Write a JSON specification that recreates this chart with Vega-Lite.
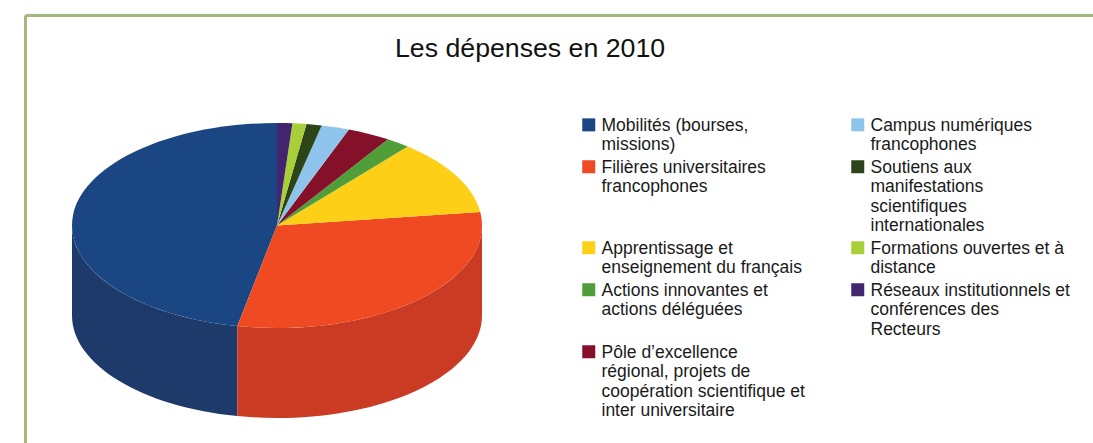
{
"$schema":"https://vega.github.io/schema/vega-lite/v6.json",
"autosize":{"type":"none"},
"padding":{"left":25,"top":15,"right":0,"bottom":0},
"width":1068,"height":428,
"background":"#ffffff",
"config":{"view":{"stroke":null},"font":"Liberation Sans"},
"title":{"text":"Les dépenses en 2010","anchor":"start","frame":"group","dx":370,"dy":52,"fontSize":26.7,"fontWeight":"normal","font":"Liberation Sans","color":"#111111"},
"data":{"values":[
{"poste":"Mobilités (bourses,\nmissions)","part":46.9},
{"poste":"Filières universitaires\nfrancophones","part":30.2},
{"poste":"Apprentissage et\nenseignement du français","part":11.9},
{"poste":"Actions innovantes et\nactions déléguées","part":1.9},
{"poste":"Pôle d’excellence\nrégional, projets de\ncoopération scientifique et\ninter universitaire","part":3.4},
{"poste":"Campus numériques\nfrancophones","part":2.2},
{"poste":"Soutiens aux\nmanifestations\nscientifiques\ninternationales","part":1.2},
{"poste":"Formations ouvertes et à\ndistance","part":1.1},
{"poste":"Réseaux institutionnels et\nconférences des\nRecteurs","part":1.2}
]},
"transform":[
{"stack":"part","groupby":[],"offset":"normalize","as":["v0","v1"]},
{"calculate":"2*PI*datum.v0","as":"a0"},
{"calculate":"2*PI*datum.v1","as":"a1"}
],
"encoding":{
"x":{"datum":0,"type":"quantitative","scale":{"domain":[-252,816],"nice":false,"zero":false},"axis":{"orient":"top","title":null,"labels":false,"ticks":false,"grid":false,"domain":true,"domainColor":"#a2b87c","domainWidth":3}},
"y":{"datum":0,"type":"quantitative","scale":{"domain":[-217.5,210.5],"nice":false,"zero":false},"axis":{"orient":"left","title":null,"labels":false,"ticks":false,"grid":false,"domain":true,"domainColor":"#a2b87c","domainWidth":3}}
},
"layer":[
{
"transform":[
{"calculate":"clamp(datum.a0,PI/2,3*PI/2)","as":"b0"},
{"calculate":"clamp(datum.a1,PI/2,3*PI/2)","as":"b1"},
{"filter":"datum.b1>datum.b0"},
{"calculate":"round(-20500*sin(datum.b0))/100","as":"x0"},
{"calculate":"round(-10250*cos(datum.b0))/100","as":"y0"},
{"calculate":"round(-20500*sin(datum.b1))/100","as":"x1"},
{"calculate":"round(-10250*cos(datum.b1))/100","as":"y1"},
{"calculate":"'M'+datum.x0+','+datum.y0+'A205,102.5 0 0 0 '+datum.x1+','+datum.y1+'L'+datum.x1+','+(datum.y1+90)+'A205,102.5 0 0 1 '+datum.x0+','+(datum.y0+90)+'Z'","as":"trace"}
],
"mark":{"type":"point","filled":true,"opacity":1,"strokeWidth":0,"size":4},
"encoding":{
"shape":{"field":"trace","type":"nominal","scale":null,"legend":null},
"fill":{"field":"poste","type":"nominal","legend":null,"scale":{"domain":["Mobilités (bourses,\nmissions)","Filières universitaires\nfrancophones"],"range":["#1d3a6b","#cb3a22"]}}
}
},
{
"transform":[
{"calculate":"round(-20500*sin(datum.a0))/100","as":"x0"},
{"calculate":"round(-10250*cos(datum.a0))/100","as":"y0"},
{"calculate":"round(-20500*sin(datum.a1))/100","as":"x1"},
{"calculate":"round(-10250*cos(datum.a1))/100","as":"y1"},
{"calculate":"'M0,0L'+datum.x0+','+datum.y0+'A205,102.5 0 '+(datum.a1-datum.a0>PI?1:0)+' 0 '+datum.x1+','+datum.y1+'Z'","as":"trace"}
],
"mark":{"type":"point","filled":true,"opacity":1,"strokeWidth":0,"size":4},
"encoding":{
"shape":{"field":"trace","type":"nominal","scale":null,"legend":null},
"fill":{"field":"poste","type":"nominal","sort":null,
"scale":{"domain":["Mobilités (bourses,\nmissions)","Filières universitaires\nfrancophones","Apprentissage et\nenseignement du français","Actions innovantes et\nactions déléguées","Pôle d’excellence\nrégional, projets de\ncoopération scientifique et\ninter universitaire","Campus numériques\nfrancophones","Soutiens aux\nmanifestations\nscientifiques\ninternationales","Formations ouvertes et à\ndistance","Réseaux institutionnels et\nconférences des\nRecteurs"],
"range":["#1a4683","#ef4a21","#fdd017","#4f9e3a","#85102a","#8ec4ec","#2c4418","#a8cf38","#43246f"]},
"legend":{"title":null,"orient":"none","legendX":555,"legendY":101,"columns":2,"symbolType":"square","symbolSize":169,"symbolStrokeWidth":0,"labelFont":"Liberation Sans","labelFontSize":17.5,"labelColor":"#1a1a1a","labelLimit":400,"labelOffset":4,"labelBaseline":"top","rowPadding":4,"columnPadding":44,"labelExpr":"split(datum.label,'\\n')","encoding":{"labels":{"dy":{"value":-8}}}}}
}
}
],
"resolve":{"scale":{"fill":"independent"}}
}
